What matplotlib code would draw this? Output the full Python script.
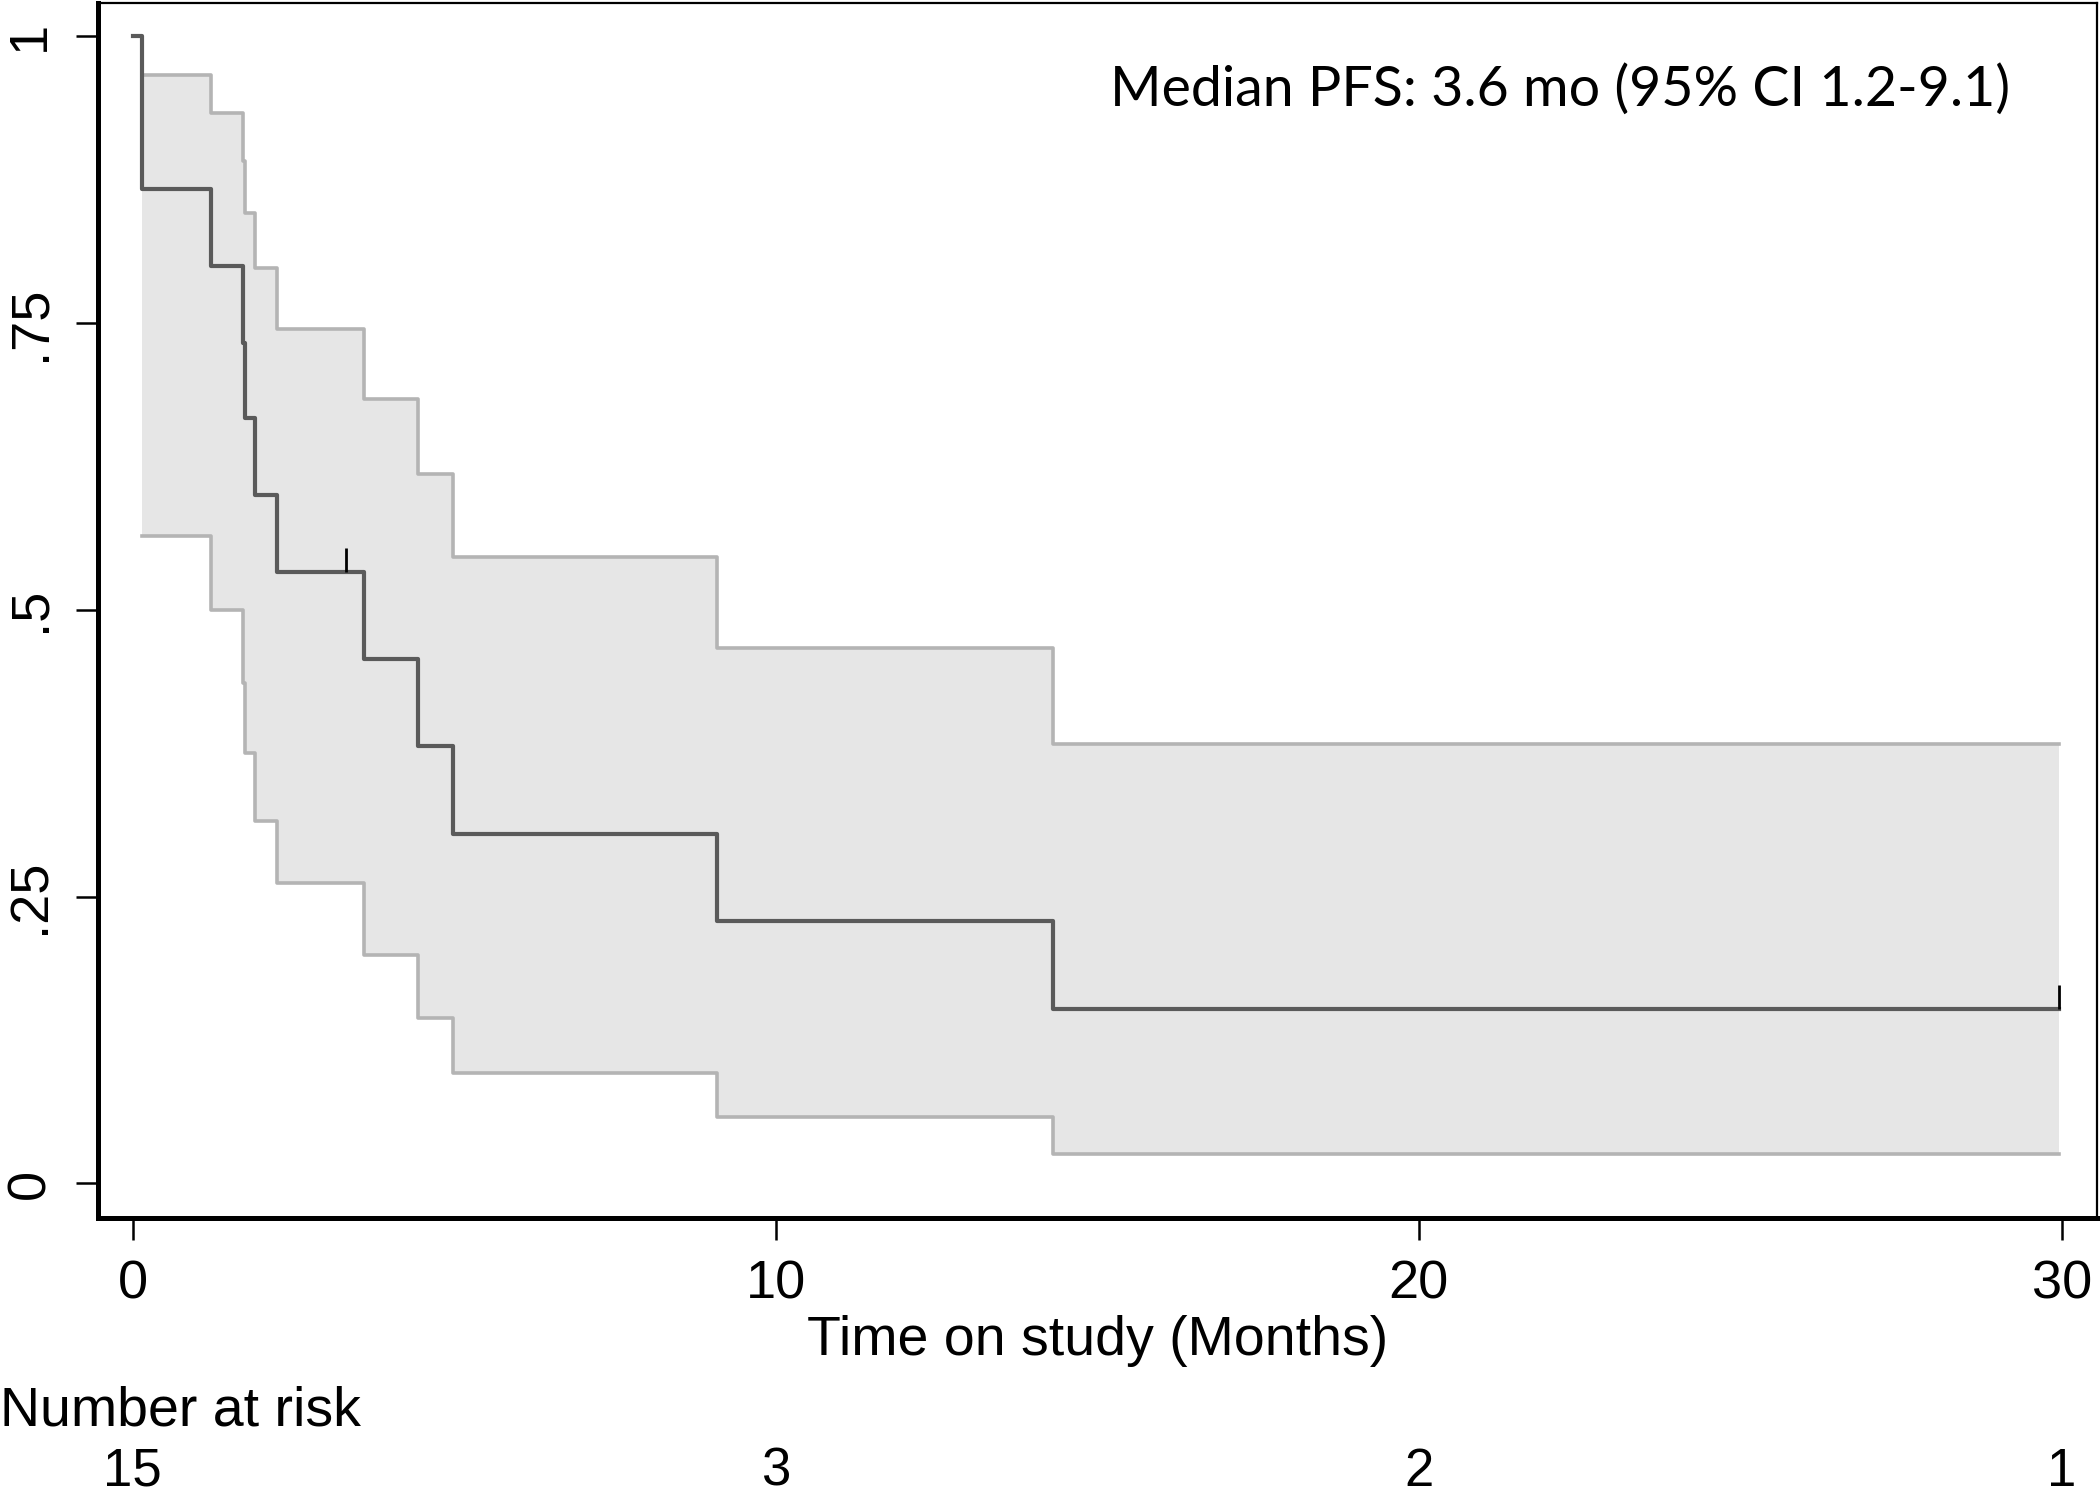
import numpy as np
import matplotlib.pyplot as plt

# Kaplan-Meier estimate (months, survival after each drop)
event_times = [0.14, 1.21, 1.72, 1.75, 1.90, 2.24, 3.59, 4.44, 4.98, 9.08, 14.31]
surv = [0.867, 0.800, 0.733, 0.667, 0.600, 0.533, 0.457, 0.381, 0.305, 0.229, 0.152]
ci_upper = [0.966, 0.933, 0.891, 0.846, 0.798, 0.745, 0.684, 0.618, 0.546, 0.467, 0.383]
ci_lower = [0.564, 0.500, 0.436, 0.375, 0.316, 0.262, 0.199, 0.144, 0.096, 0.058, 0.026]
end_time = 29.96

# censored observations (time, survival at that time)
censor_times = [3.32, 29.96]
censor_surv = [0.533, 0.152]

# number at risk table
risk_times = [0, 10, 20, 30]
risk_counts = [15, 3, 2, 1]

x_ticks = [0, 10, 20, 30]
y_ticks = [0, 0.25, 0.5, 0.75, 1]
y_ticklabels = ["0", ".25", ".5", ".75", "1"]

plt.rcParams['font.family'] = ['Liberation Sans', 'DejaVu Sans']

fig = plt.figure(figsize=(21, 14.98), dpi=100)
ax = fig.add_axes([0.0467, 0.187, 0.952, 0.811])

#----- confidence band
ci_x = event_times + [end_time]
up = ci_upper + [ci_upper[-1]]
lo = ci_lower + [ci_lower[-1]]
ax.fill_between(ci_x, lo, up, step='post', color='#e6e6e6', lw=0)
ax.plot(ci_x, up, drawstyle='steps-post', color='#b4b4b4', lw=2.6)
ax.plot(ci_x, lo, drawstyle='steps-post', color='#b4b4b4', lw=2.6)

#----- survival curve
km_x = [0] + event_times + [end_time]
km_y = [1.0] + surv + [surv[-1]]
ax.plot(km_x, km_y, drawstyle='steps-post', color='#5a5a5a', lw=3.0)

# censor marks
ax.vlines(censor_times, censor_surv, np.array(censor_surv) + 0.021, color='black', lw=2.0)

ax.text(22.2, 0.953, "Median PFS: 3.6 mo (95% CI 1.2-9.1)", ha='center', va='center',
        fontsize=40, family=['Lato', 'DejaVu Sans'])

#----- axes styling
ax.set_xlim(-0.54, 30.55)
ax.set_ylim(-0.03, 1.029)
ax.set_xticks(x_ticks)
ax.set_xticklabels([str(t) for t in x_ticks], fontsize=39)
ax.set_yticks(y_ticks)
ax.set_yticklabels(y_ticklabels, fontsize=39, rotation=90, va='center')
ax.tick_params(axis='both', direction='out', length=16, width=1.8, color='black')
ax.tick_params(axis='x', pad=14)
ax.tick_params(axis='y', pad=15)

for side in ['left', 'bottom']:
    ax.spines[side].set_linewidth(3.6)
for side in ['top', 'right']:
    ax.spines[side].set_linewidth(1.6)

ax.set_xlabel("Time on study (Months)", fontsize=40)
ax.xaxis.set_label_coords(0.5, -0.101)
ax.xaxis.label.set_va('center')

# number at risk
trans = ax.get_xaxis_transform()
fig.text(0.0, 1 - 1412 / 1498, "Number at risk", ha='left', va='center', fontsize=40)
for t, n in zip(risk_times, risk_counts):
    ax.text(t, -0.209, str(n), transform=trans, ha='center', va='center', fontsize=38,
            clip_on=False)

plt.savefig('out.png', dpi=100)
